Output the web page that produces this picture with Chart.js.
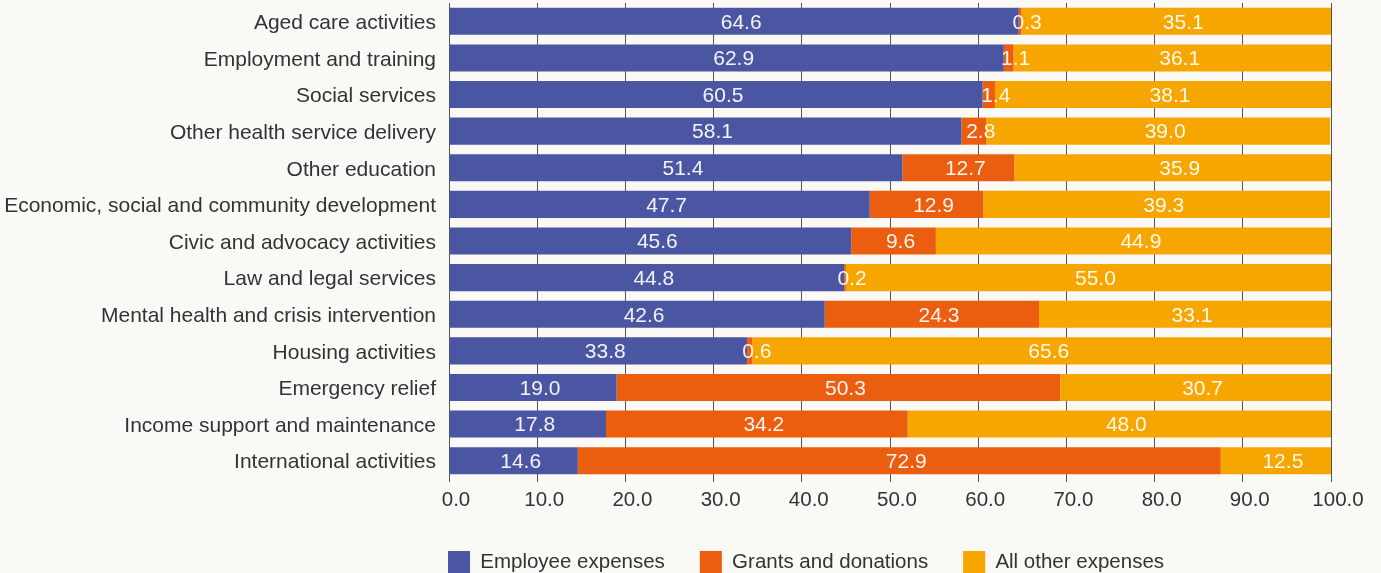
<!DOCTYPE html>
<html>
<head>
<meta charset="utf-8">
<script src="https://cdn.jsdelivr.net/npm/chart.js@4/dist/chart.umd.min.js"></script>
<style>
  html, body { margin: 0; padding: 0; background: #faf9f5; }
  canvas { display: block; }
</style>
</head>
<body>
<canvas id="c" width="1381" height="573"></canvas>
<script>
const categories = [
  "Aged care activities",
  "Employment and training",
  "Social services",
  "Other health service delivery",
  "Other education",
  "Economic, social and community development",
  "Civic and advocacy activities",
  "Law and legal services",
  "Mental health and crisis intervention",
  "Housing activities",
  "Emergency relief",
  "Income support and maintenance",
  "International activities"
];
const employeeExpenses = [64.6, 62.9, 60.5, 58.1, 51.4, 47.7, 45.6, 44.8, 42.6, 33.8, 19.0, 17.8, 14.6];
const grantsAndDonations = [0.3, 1.1, 1.4, 2.8, 12.7, 12.9, 9.6, 0.2, 24.3, 0.6, 50.3, 34.2, 72.9];
const allOtherExpenses = [35.1, 36.1, 38.1, 39.0, 35.9, 39.3, 44.9, 55.0, 33.1, 65.6, 30.7, 48.0, 12.5];
const seriesNames = ["Employee expenses", "Grants and donations", "All other expenses"];
const seriesColors = ["#4b56a2", "#eb5e0f", "#f7a600"];
const xTickMin = 0, xTickMax = 100, xTickStep = 10;

const FONT = "'Liberation Sans', Arial, sans-serif";

const dataLabels = {
  id: 'dataLabels',
  afterDatasetsDraw(chart) {
    const ctx = chart.ctx;
    ctx.save();
    ctx.font = "21px " + FONT;
    ctx.fillStyle = "rgba(255,255,255,0.93)";
    ctx.textAlign = "center";
    ctx.textBaseline = "middle";
    chart.data.datasets.forEach((ds, di) => {
      const meta = chart.getDatasetMeta(di);
      meta.data.forEach((el, i) => {
        const v = ds.data[i];
        const cx = (el.x + el.base) / 2 + 7;
        ctx.fillText(v.toFixed(1), cx, el.y + 1.5);
      });
    });
    ctx.restore();
  }
};

const legendShift = {
  id: 'legendShift',
  afterLayout(chart) {
    if (chart.legend) {
      chart.legend.left = 448 - 35;
      chart.legend.top += 10;
    }
  }
};

new Chart(document.getElementById('c'), {
  type: 'bar',
  data: {
    labels: categories,
    datasets: [
      { label: seriesNames[0], data: employeeExpenses, backgroundColor: seriesColors[0] },
      { label: seriesNames[1], data: grantsAndDonations, backgroundColor: seriesColors[1] },
      { label: seriesNames[2], data: allOtherExpenses, backgroundColor: seriesColors[2] }
    ]
  },
  options: {
    indexAxis: 'y',
    responsive: false,
    animation: false,
    devicePixelRatio: 1,
    layout: { padding: { top: 3, right: 50, left: 0, bottom: 0 } },
    datasets: { bar: { barPercentage: 0.74, categoryPercentage: 1, borderWidth: 0 } },
    scales: {
      x: {
        stacked: true,
        min: xTickMin,
        max: xTickMax,
        ticks: {
          stepSize: xTickStep,
          color: "#333",
          font: { family: FONT, size: 20.5 },
          padding: 6,
          labelOffset: 7,
          callback: v => Number(v).toFixed(1)
        },
        grid: { color: "#555", lineWidth: 1, tickLength: 3, drawTicks: true },
        border: { display: false },
        afterFit(scale) { scale.height = 27; }
      },
      y: {
        stacked: true,
        ticks: {
          color: "#333",
          font: { family: FONT, size: 21 },
          padding: 13,
          labelOffset: 2
        },
        grid: { display: false, drawTicks: false },
        border: { display: false },
        afterFit(scale) {
          scale.width = 449;
          scale.paddingTop = 0;
          scale.paddingBottom = 0;
        }
      }
    },
    plugins: {
      legend: {
        position: 'bottom',
        align: 'start',
        labels: {
          boxWidth: 22,
          boxHeight: 22,
          padding: 35,
          color: "#333",
          font: { family: FONT, size: 20.5 }
        }
      },
      tooltip: { enabled: false }
    }
  },
  plugins: [dataLabels, legendShift]
});
</script>
</body>
</html>
